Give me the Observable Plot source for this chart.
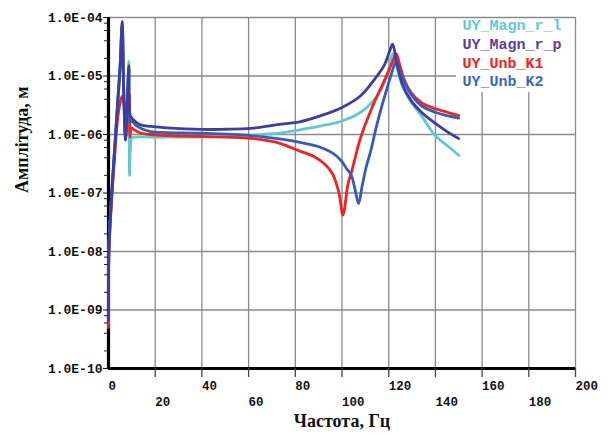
<!DOCTYPE html>
<html><head><meta charset="utf-8">
<script src="https://cdn.jsdelivr.net/npm/d3@7"></script>
<script src="https://cdn.jsdelivr.net/npm/@observablehq/plot@0.6"></script>
<style>body{margin:0;background:#fff}#chart{width:608px;height:441px}</style>
</head><body><div id="chart"></div>
<script>
const seriesNames = ["UY_Magn_r_l", "UY_Magn_r_p", "UY_Unb_K1", "UY_Unb_K2"];

const freqMagnL = [0, 0.15, 1.2, 2.6, 4, 5, 5.85, 6.5, 7.3, 8.2, 8.7, 9.0, 9.4, 10, 12, 15, 20, 30, 40, 50, 60, 70, 74, 82, 91, 100, 108, 113, 117, 119.5, 121.7, 123.5, 126, 129.6, 134, 140, 145, 150];
const ampMagnL = [6e-10, 1e-8, 7e-8, 5e-7, 3.5e-6, 1.4e-5, 7e-5, 6e-6, 9e-7, 5e-6, 1.8e-5, 2e-7, 6e-7, 8.8e-7, 9e-7, 9.1e-7, 9e-7, 9e-7, 9e-7, 9.2e-7, 9.6e-7, 1.03e-6, 1.07e-6, 1.2e-6, 1.4e-6, 1.7e-6, 2.4e-6, 3.6e-6, 6.1e-6, 1.1e-5, 2.4e-5, 1.4e-5, 6.5e-6, 3.6e-6, 2.1e-6, 9.5e-7, 6.5e-7, 4.4e-7];

const freqMagnP = [0, 0.15, 1.2, 2.6, 4, 5, 5.85, 6.5, 7.3, 8.1, 8.7, 9.2, 10, 12, 14, 18, 25, 40, 50, 61, 74, 82, 91, 100, 108, 114.5, 118, 120.3, 121.7, 123.5, 126, 129.6, 134, 140, 145, 150];
const ampMagnP = [6.5e-10, 1e-8, 7.4e-8, 5.4e-7, 3.8e-6, 1.5e-5, 8.6e-5, 5e-6, 8e-7, 4e-6, 1.5e-5, 2.2e-6, 1.9e-6, 1.6e-6, 1.45e-6, 1.38e-6, 1.3e-6, 1.22e-6, 1.23e-6, 1.27e-6, 1.5e-6, 1.65e-6, 2.1e-6, 2.9e-6, 4.6e-6, 9.4e-6, 1.5e-5, 2.6e-5, 3.5e-5, 1.6e-5, 7e-6, 3.8e-6, 2.4e-6, 1.55e-6, 1.12e-6, 8.5e-7];

const freqK1 = [0, 0.15, 1.2, 2.6, 4, 5, 5.8, 6.6, 7.4, 8.3, 8.9, 9.2, 9.8, 11, 14, 18, 25, 39, 50, 61, 70, 74, 82, 88, 93, 96, 98.7, 100.4, 102.6, 104.2, 108, 112.4, 116.7, 119.5, 121.5, 123.2, 124.8, 127, 129.6, 134, 140, 145, 150];
const ampK1 = [5e-10, 8e-9, 6e-8, 4e-7, 2e-6, 3.5e-6, 4.5e-6, 3.5e-6, 2.5e-6, 3.5e-6, 5e-6, 9e-7, 1.3e-6, 1.2e-6, 1.05e-6, 1.0e-6, 9.6e-7, 9.3e-7, 9e-7, 8.6e-7, 7.6e-7, 6.9e-7, 5.2e-7, 4.2e-7, 3e-7, 2.1e-7, 1e-7, 4.2e-8, 1.45e-7, 2.4e-7, 8.9e-7, 2.6e-6, 6.3e-6, 1.1e-5, 1.7e-5, 2.4e-5, 1.5e-5, 8e-6, 5.2e-6, 3.5e-6, 2.75e-6, 2.4e-6, 2.1e-6];

const freqK2 = [0, 0.15, 1.2, 2.6, 4, 5, 5.85, 6.6, 7.3, 8.1, 8.7, 9.2, 10, 12, 18, 25, 40, 61, 74, 82, 91, 96, 99.6, 102, 104, 105.7, 107.1, 108.6, 110.3, 112.4, 114.6, 117, 119, 121.2, 123, 124.8, 127, 130, 134, 140, 145, 150];
const ampK2 = [8e-10, 1.2e-8, 8e-8, 5.6e-7, 4e-6, 1.6e-5, 7.5e-5, 5e-6, 8e-7, 4e-6, 1.4e-5, 1.6e-6, 1.7e-6, 1.4e-6, 1.12e-6, 1.08e-6, 1.05e-6, 9.6e-7, 8.3e-7, 7.3e-7, 6e-7, 4.8e-7, 3.6e-7, 2.6e-7, 2e-7, 1.1e-7, 6.6e-8, 1.3e-7, 2.7e-7, 5.4e-7, 1.3e-6, 3e-6, 5.6e-6, 1.1e-5, 1.7e-5, 1.2e-5, 7.5e-6, 4.6e-6, 3.1e-6, 2.4e-6, 2.1e-6, 1.9e-6];

const yTicks = [1e-10, 1e-9, 1e-8, 1e-7, 1e-6, 1e-5, 1e-4];
const yTickLabels = ["1.0E-10", "1.0E-09", "1.0E-08", "1.0E-07", "1.0E-06", "1.0E-05", "1.0E-04"];
const xTicksRow1 = [0, 40, 80, 120, 160, 200];
const xTicksRow2 = [20, 60, 100, 140, 180];
const xTitle = "Частота, Гц";
const yTitle = "Амплітуда, м";

const seriesColors = ["#62c8d2", "#3e3e9e", "#ee2424", "#3a5bb5"];
const legendColors = ["#62c8d2", "#5a409e", "#ee2424", "#3d68b8"];

const seriesData = [
  [seriesNames[0], freqMagnL, ampMagnL],
  [seriesNames[2], freqK1, ampK1],
  [seriesNames[3], freqK2, ampK2],
  [seriesNames[1], freqMagnP, ampMagnP]
];
const rows = seriesData.flatMap(([s, fs, as]) => fs.map((f, i) => ({s, f, a: as[i]})));

const xGrid = d3.range(20, 200, 20);
const xTickLines = d3.range(20, 201, 20);
const yGrid = yTicks.slice(1, -1);
const minorTicks = [];
for (let e = -10; e < -4; e++) for (const m of [2, 4, 6, 8]) minorTicks.push(m * Math.pow(10, e));

const grid = {stroke: "#8a8a8a", strokeOpacity: 1, strokeWidth: 1.3};
const legendMarks = seriesNames.map((n, i) => Plot.text([n], {
  frameAnchor: "top-right", textAnchor: "start", lineAnchor: "middle",
  dx: -113, dy: 8 + i * 18.7, fill: legendColors[i],
  fontFamily: "'Liberation Mono', monospace", fontSize: 15, letterSpacing: 0.8, fontWeight: 600
}));

const chart = Plot.plot({
  width: 608, height: 441,
  marginLeft: 108, marginRight: 33, marginTop: 17, marginBottom: 73,
  style: {fontFamily: "'Liberation Mono', monospace", fontSize: "13px", background: "#fff", color: "#111"},
  x: {domain: [0, 200]},
  y: {type: "log", domain: [1e-10, 1e-4]},
  color: {domain: seriesNames, range: seriesColors},
  marks: [
    Plot.gridX(xGrid, grid),
    Plot.gridY(yGrid, grid),
    Plot.rect([0], {x1: () => 149, x2: () => 200, y1: () => 5.2e-6, y2: () => 1e-4, fill: "#fff"}),
    Plot.ruleY([1e-4], {stroke: "#8a8a8a", strokeWidth: 1.3}),
    Plot.ruleX([200], {stroke: "#8a8a8a", strokeWidth: 1.3}),
    Plot.ruleX([0], {stroke: "#000", strokeWidth: 3.2}),
    Plot.ruleY([1e-10], {stroke: "#000", strokeWidth: 3.2}),
    Plot.line(rows, {x: "f", y: "a", z: "s", stroke: "s", strokeWidth: 2.8, strokeLinejoin: "round", curve: "catmull-rom"}),
    Plot.axisY(minorTicks, {tickSize: 4, tickFormat: () => "", label: null, color: "#222"}),
    Plot.axisY(yTicks, {tickSize: 5, tickPadding: 1, label: null, color: "#111", fontWeight: "bold", fontSize: 13,
      tickFormat: d => yTickLabels[yTicks.indexOf(d)]}),
    Plot.axisX(xTickLines, {tickSize: 9, tickFormat: () => "", label: null, color: "#444", strokeWidth: 1.3}),
    Plot.axisX(xTicksRow1, {tickSize: 0, tickPadding: 13, textAnchor: "start", label: null, color: "#111", fontWeight: "bold", fontSize: 12.5}),
    Plot.axisX(xTicksRow2, {tickSize: 0, tickPadding: 29, textAnchor: "start", label: null, color: "#111", fontWeight: "bold", fontSize: 12.5}),
    ...legendMarks,
    Plot.text([xTitle], {frameAnchor: "bottom", dy: 53, lineAnchor: "middle", fontFamily: "'Liberation Serif', serif", fontWeight: "bold", fontSize: 18, fill: "#111"}),
    Plot.text([yTitle], {frameAnchor: "left", dx: -86, rotate: -90, lineAnchor: "middle", fontFamily: "'Liberation Serif', serif", fontWeight: "bold", fontSize: 18, fill: "#111"})
  ]
});
document.getElementById("chart").append(chart);
</script>
</body></html>
